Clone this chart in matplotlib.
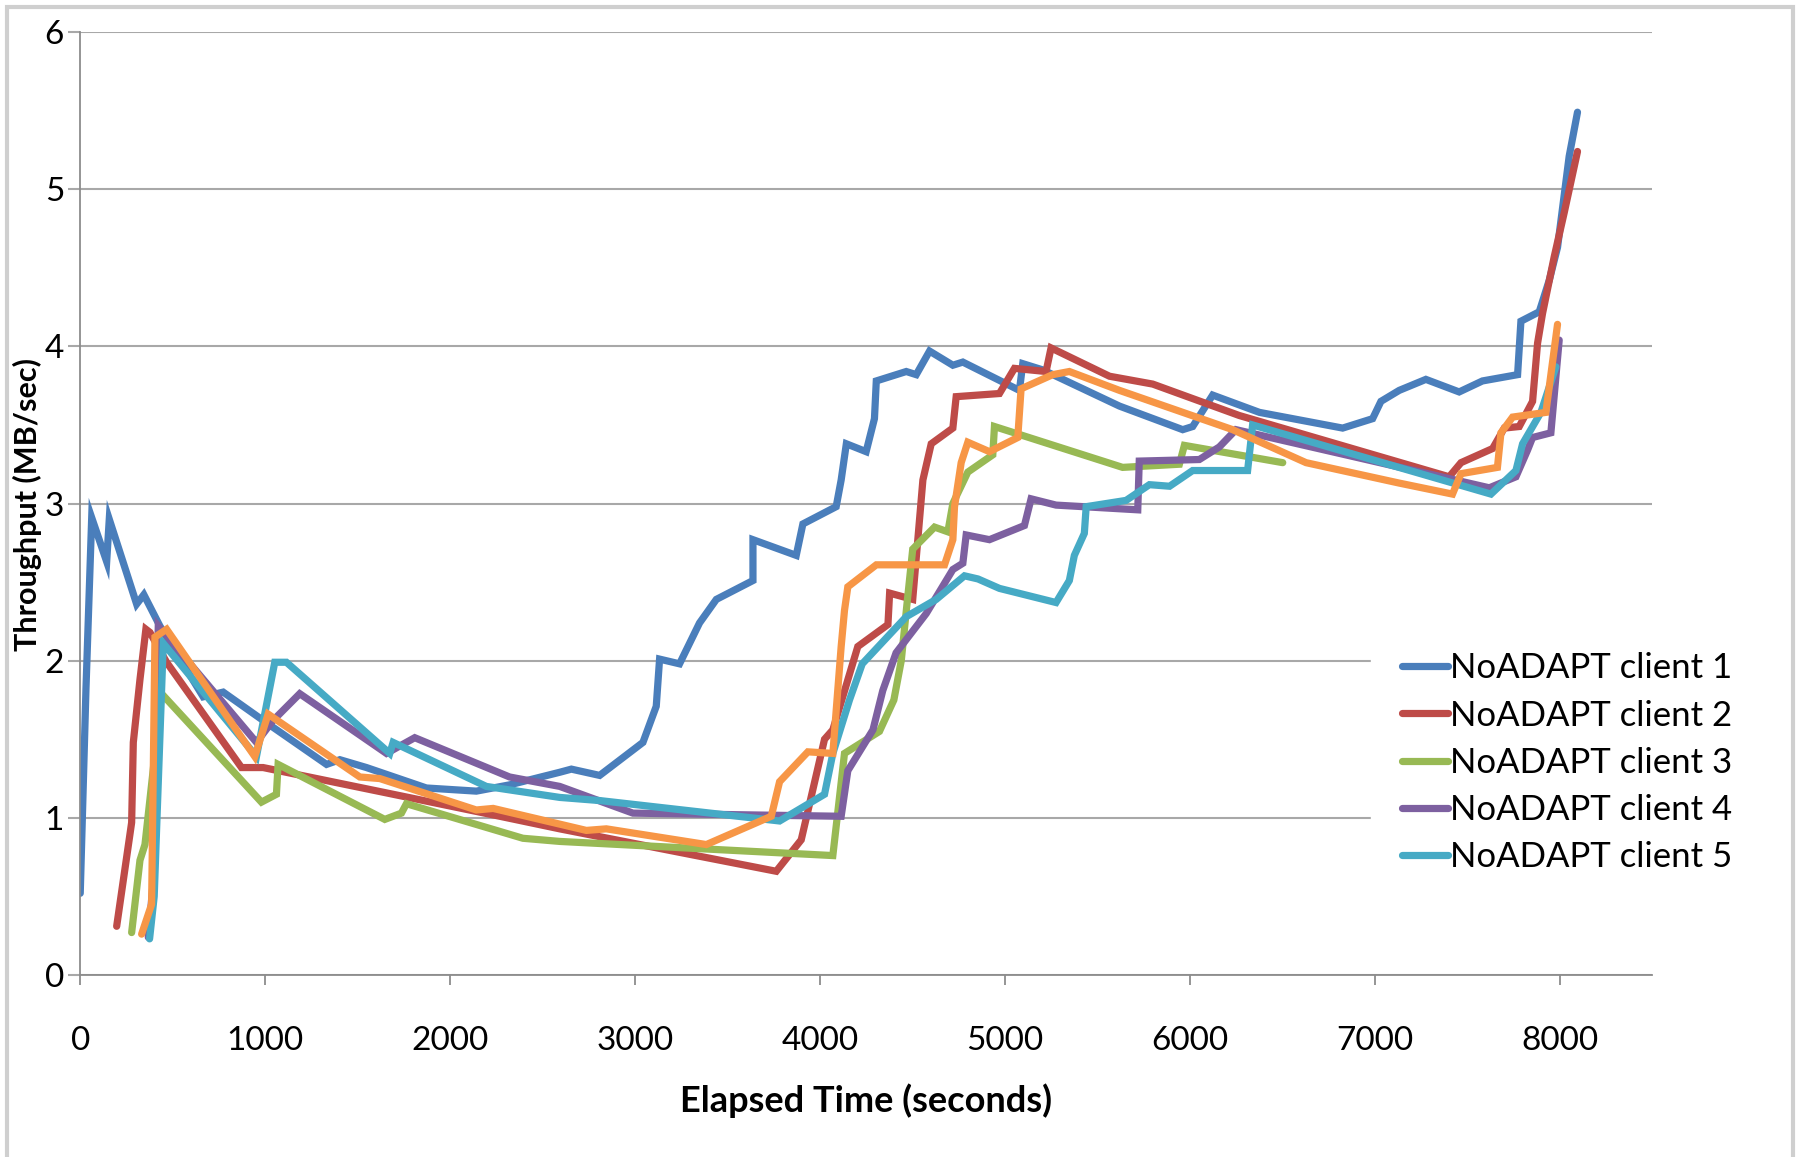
import matplotlib
matplotlib.use('Agg')
import matplotlib.pyplot as plt
from matplotlib.patches import Rectangle

plt.rcParams['font.family'] = ['Lato', 'DejaVu Sans']

# series (elapsed seconds, MB/sec)
c1_x = [0, 31, 62, 143, 157, 305, 344, 431, 665, 773, 989, 1332, 1404, 1548, 1872, 2142, 2322, 2593,
        2656, 2809, 3043, 3115, 3133, 3241, 3349, 3440, 3638, 3638, 3872, 3908, 4088, 4115, 4143, 4250,
        4295, 4305, 4467, 4521, 4593, 4719, 4773, 5079, 5097, 5206, 5620, 5962, 6016, 6124, 6377, 6827,
        6989, 7034, 7133, 7277, 7457, 7583, 7773, 7791, 7890, 7944, 7989, 8052, 8097]
c1_y = [0.52, 1.82, 2.91, 2.63, 2.90, 2.36, 2.42, 2.22, 1.77, 1.80, 1.62, 1.34, 1.37, 1.32, 1.19, 1.17, 1.21, 1.29,
        1.31, 1.27, 1.48, 1.71, 2.01, 1.98, 2.24, 2.39, 2.51, 2.77, 2.67, 2.87, 2.98, 3.15, 3.38, 3.33,
        3.54, 3.78, 3.84, 3.82, 3.97, 3.88, 3.90, 3.72, 3.89, 3.85, 3.62, 3.47, 3.49, 3.69, 3.58, 3.48,
        3.54, 3.65, 3.72, 3.79, 3.71, 3.78, 3.82, 4.16, 4.22, 4.42, 4.63, 5.21, 5.49]

c2_x = [197, 278, 287, 323, 355, 377, 467, 872, 989, 1692, 2269, 2593, 3764, 3899, 4025, 4070, 4205, 4368,
        4377, 4502, 4557, 4602, 4719, 4737, 4971, 5052, 5223, 5250, 5566, 5800, 6268, 7403, 7467, 7638,
        7701, 7782, 7854, 7881, 7908, 7971, 8025, 8097]
c2_y = [0.31, 0.97, 1.48, 1.88, 2.20, 2.18, 1.99, 1.32, 1.32, 1.15, 1.01, 0.93, 0.66, 0.86, 1.50, 1.56, 2.09, 2.23,
        2.43, 2.39, 3.15, 3.38, 3.48, 3.68, 3.70, 3.86, 3.84, 3.99, 3.81, 3.76, 3.56, 3.17, 3.26, 3.35,
        3.48, 3.49, 3.65, 4.02, 4.21, 4.57, 4.85, 5.24]

c3_x = [278, 323, 350, 440, 980, 1061, 1070, 1647, 1737, 1764, 2394, 2593, 4070, 4133, 4322, 4400, 4440,
        4470, 4502, 4620, 4692, 4719, 4800, 4935, 4944, 5637, 5944, 5971, 6503]
c3_y = [0.27, 0.73, 0.83, 1.79, 1.10, 1.15, 1.34, 0.99, 1.03, 1.09, 0.87, 0.85, 0.76, 1.41, 1.55, 1.75, 2.00,
        2.35, 2.71, 2.85, 2.82, 3.00, 3.20, 3.31, 3.49, 3.23, 3.25, 3.37, 3.26]

c4_x = [368, 395, 422, 953, 1043, 1187, 1656, 1809, 2322, 2593, 2989, 4115, 4151, 4287, 4340, 4412, 4575,
        4719, 4773, 4791, 4917, 5106, 5142, 5277, 5719, 5727, 6052, 6160, 6250, 7620, 7764, 7827, 7854,
        7953, 7998]
c4_y = [0.24, 0.60, 2.22, 1.48, 1.62, 1.79, 1.41, 1.51, 1.26, 1.20, 1.03, 1.01, 1.30, 1.56, 1.81, 2.05, 2.30,
        2.58, 2.62, 2.80, 2.77, 2.86, 3.03, 2.99, 2.96, 3.27, 3.28, 3.36, 3.47, 3.10, 3.17, 3.34, 3.42,
        3.45, 4.04]

c5_x = [375, 400, 449, 953, 1052, 1115, 1674, 1692, 2196, 2593, 2809, 3782, 4025, 4070, 4160, 4229, 4467,
        4629, 4782, 4855, 4971, 5277, 5349, 5376, 5430, 5440, 5656, 5782, 5891, 6016, 6313, 6340, 7629,
        7764, 7800, 7899, 7980]
c5_y = [0.23, 0.50, 2.11, 1.39, 1.99, 1.99, 1.41, 1.48, 1.20, 1.13, 1.11, 0.98, 1.15, 1.41, 1.75, 1.98, 2.28,
        2.39, 2.54, 2.52, 2.46, 2.37, 2.51, 2.67, 2.81, 2.98, 3.02, 3.12, 3.11, 3.21, 3.21, 3.50, 3.06,
        3.21, 3.38, 3.58, 3.87]

# sixth line has no legend entry in the original
c6_x = [332, 386, 404, 467, 944, 1016, 1512, 1620, 2142, 2233, 2593, 2737, 2845, 3386, 3737, 3782, 3935,
        4070, 4115, 4133, 4151, 4305, 4674, 4719, 4728, 4764, 4800, 4917, 5070, 5088, 5259, 5349, 5620,
        6232, 6629, 7133, 7421, 7467, 7664, 7683, 7746, 7926, 7989]
c6_y = [0.26, 0.45, 2.15, 2.20, 1.39, 1.66, 1.26, 1.25, 1.05, 1.06, 0.96, 0.92, 0.93, 0.83, 1.01, 1.23, 1.42,
        1.41, 2.09, 2.32, 2.47, 2.61, 2.61, 2.77, 2.98, 3.26, 3.39, 3.33, 3.42, 3.73, 3.82, 3.84, 3.72,
        3.47, 3.26, 3.13, 3.06, 3.19, 3.23, 3.45, 3.55, 3.58, 4.14]

labels = ['NoADAPT client 1', 'NoADAPT client 2', 'NoADAPT client 3', 'NoADAPT client 4', 'NoADAPT client 5', None]
colors = ['#4a7ebb', '#be4b48', '#98b954', '#7d60a0', '#46aac5', '#f79646']
series = [(c1_x, c1_y), (c2_x, c2_y), (c3_x, c3_y), (c4_x, c4_y), (c5_x, c5_y), (c6_x, c6_y)]

fig = plt.figure(figsize=(17.99, 11.57), dpi=100)
ax = fig.add_axes([0.0446, 0.1573, 0.8737, 0.815])

for (xs, ys), col, lab in zip(series, colors, labels):
    ax.plot(xs, ys, color=col, lw=5.2, label=lab, solid_joinstyle='miter', solid_capstyle='round')

ax.set_xlim(0, 8500)
ax.set_ylim(0, 6)
ax.set_xticks(range(0, 8001, 1000))
ax.set_yticks(range(0, 7))
ax.grid(axis='y', color='#a8a8a8', lw=1.5)
ax.set_axisbelow(True)
for s in ['top', 'right']:
    ax.spines[s].set_visible(False)
for s in ['left', 'bottom']:
    ax.spines[s].set_color('#8c8c8c')
    ax.spines[s].set_linewidth(1.3)
ax.tick_params(axis='x', length=7, width=1.3, color='#8c8c8c', pad=30, labelsize=24)
ax.tick_params(axis='y', length=8.6, width=1.5, color='#a8a8a8', pad=3, labelsize=24)

fig.text(866 / 1799, 1 - 1101 / 1157, 'Elapsed Time (seconds)', ha='center', va='center',
         fontsize=26, fontweight='bold')
fig.text(27 / 1799, 1 - 505 / 1157, 'Throughput (MB/sec)', ha='center', va='center',
         rotation=90, fontsize=22, fontweight='bold')

handles, labs = ax.get_legend_handles_labels()
leg = ax.legend(handles, labs, loc='upper left', bbox_to_anchor=(1371 / 1799, 1 - 621 / 1157),
                bbox_transform=fig.transFigure, fontsize=25, frameon=True, facecolor='white',
                edgecolor='white', framealpha=1, fancybox=False, borderpad=0.9, borderaxespad=0,
                handlelength=1.33, handletextpad=0.05, labelspacing=0.44)

# outer chart frame
fig.patches.append(Rectangle((7 / 1799, -0.05), 1786 / 1799, 1.05 - 7 / 1157,
                             transform=fig.transFigure, fill=False, edgecolor='#cfcfcf', lw=3))

fig.savefig('out.png', dpi=100)
